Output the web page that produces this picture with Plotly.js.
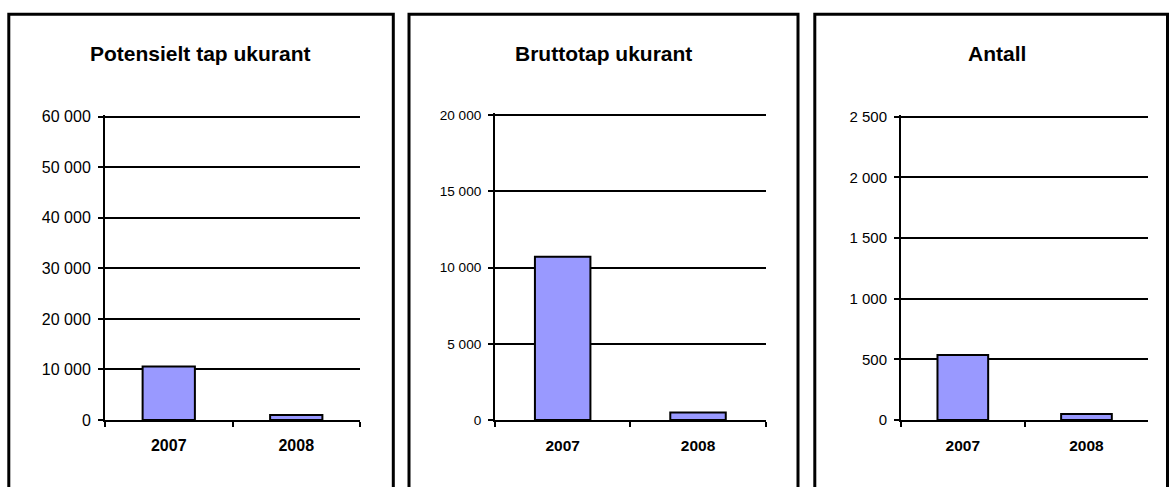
<!DOCTYPE html>
<html>
<head>
<meta charset="utf-8">
<script src="https://cdn.plot.ly/plotly-3.0.1.min.js"></script>
<style>html,body{margin:0;padding:0;background:#fff;}#chart{width:1169px;height:487px;}</style>
</head>
<body>
<div id="chart"></div>
<script>
const years = ["2007", "2008"];
const potensieltTap = [10600, 1000];
const bruttotap = [10700, 500];
const antall = [535, 50];
const titles = ["Potensielt tap ukurant", "Bruttotap ukurant", "Antall"];

const W = 1169, H = 487;
const px = v => v / W;
const py = v => 1 - v / H;
const FONT = "Arial, 'Liberation Sans', sans-serif";
const barColor = "#9999FF";
const EPS = 0.006;

function bar(y, xa, ya) {
  return {
    type: "bar", x: years, y: y, xaxis: xa, yaxis: ya,
    marker: {color: barColor, line: {color: "#000", width: 2}},
    hoverinfo: "x+y", showlegend: false
  };
}

function xax(domain, size, anchor) {
  return {
    domain: domain, type: "category", anchor: anchor,
    showline: true, linecolor: "#000", linewidth: 2,
    ticks: "outside", ticklen: 5, tickwidth: 2, tickcolor: "#000", tickson: "boundaries",
    ticklabelstandoff: 10,
    showgrid: false, zeroline: false, fixedrange: true,
    tickfont: {family: FONT, size: size, color: "#000", weight: "bold"}
  };
}
// zeroPx / topPx: pixel rows of value 0 and of the top tick value
function yax(zeroPx, topPx, max, dtick, size, anchor) {
  const span = (zeroPx - topPx) * (1 + EPS);
  return {
    domain: [py(zeroPx), py(zeroPx - span)], range: [0, max * (1 + EPS)],
    dtick: dtick, tick0: 0, anchor: anchor,
    showline: true, linecolor: "#000", linewidth: 2,
    ticks: "outside", ticklen: 5, tickwidth: 2, tickcolor: "#000",
    ticklabelstandoff: 4,
    showgrid: true, gridcolor: "#000", gridwidth: 2, zeroline: false,
    tickformat: ",d", fixedrange: true,
    tickfont: {family: FONT, size: size, color: "#000"}
  };
}

const data = [
  bar(potensieltTap, "x", "y"),
  bar(bruttotap, "x2", "y2"),
  bar(antall, "x3", "y3")
];

const panels = [[8.8, 393.3], [409, 798], [814.8, 1167.5]];
const shapes = panels.map(p => ({
  type: "rect", xref: "paper", yref: "paper",
  x0: px(p[0]), x1: px(p[1]), y0: -0.2, y1: py(14.3),
  line: {color: "#000", width: 3}, fillcolor: "rgba(0,0,0,0)", layer: "above"
}));

const titleX = [200.5, 603, 997.2];
const annotations = titles.map((t, i) => ({
  text: t, xref: "paper", yref: "paper", x: px(titleX[i]), y: py(53),
  xanchor: "center", yanchor: "middle", showarrow: false,
  font: {family: FONT, size: 21, color: "#000", weight: "bold"}
}));

const layout = {
  width: W, height: H,
  margin: {l: 0, r: 0, t: 0, b: 0},
  paper_bgcolor: "#fff", plot_bgcolor: "#fff",
  separators: ", ",
  bargap: 0.59,
  xaxis: xax([px(105), px(360)], 16, "y"),
  yaxis: yax(420, 116.7, 60000, 10000, 16, "x"),
  xaxis2: xax([px(495), px(765.7)], 15.5, "y2"),
  yaxis2: yax(420, 115, 20000, 5000, 13.6, "x2"),
  xaxis3: xax([px(901), px(1148.3)], 15.5, "y3"),
  yaxis3: yax(420, 116.7, 2500, 500, 15, "x3"),
  shapes: shapes,
  annotations: annotations
};

Plotly.newPlot("chart", data, layout, {displayModeBar: false, staticPlot: true});
</script>
</body>
</html>
